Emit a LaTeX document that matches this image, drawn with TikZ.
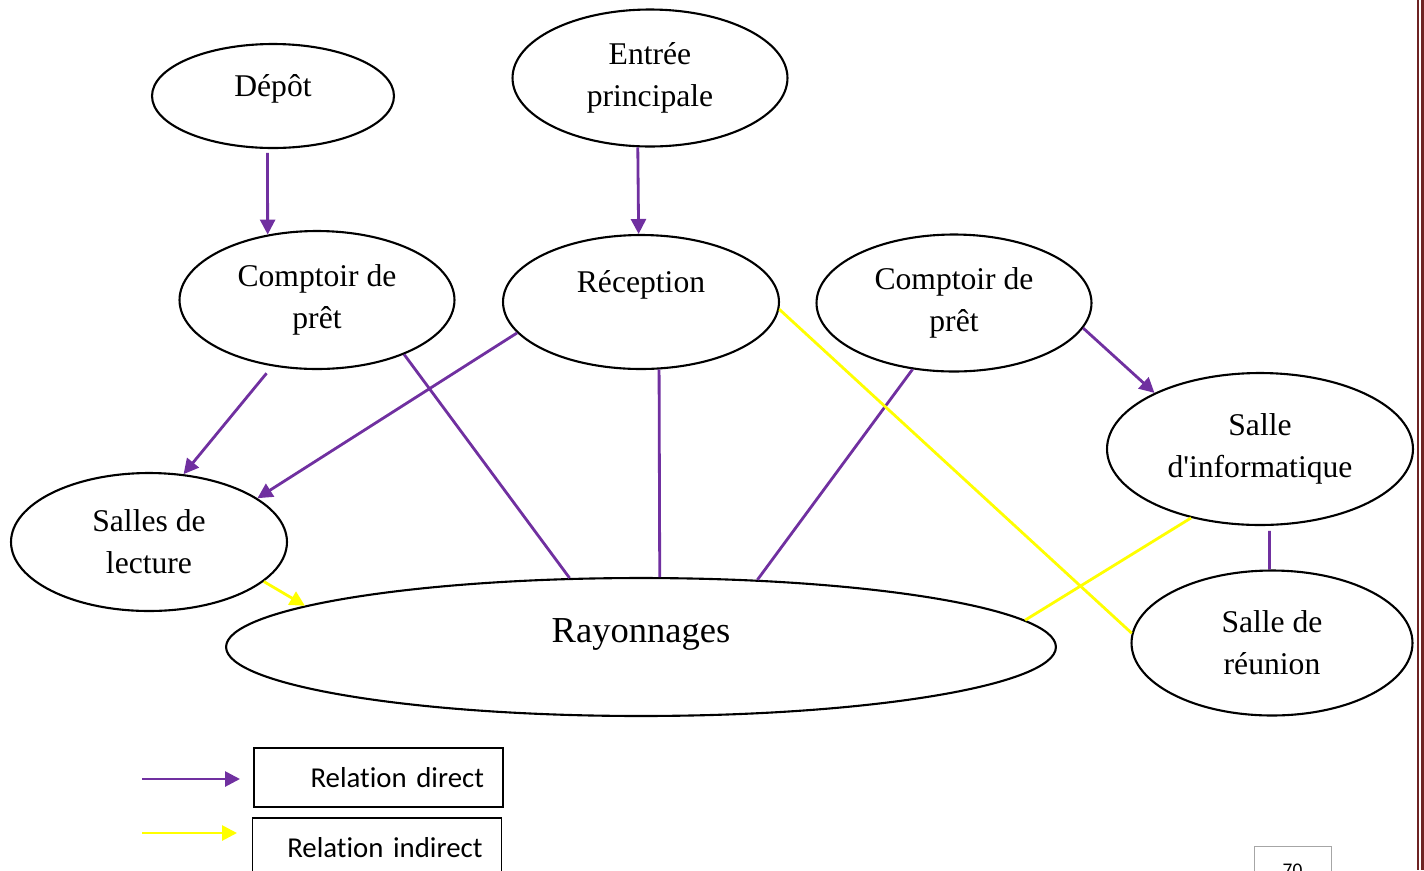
\documentclass[tikz,border=0pt]{standalone}
\usepackage{fontspec}
\setmainfont{Liberation Serif}
\newfontfamily\legfont[Ligatures=NoCommon]{Carlito}
\usetikzlibrary{shapes.geometric,arrows.meta}
\definecolor{relpurple}{RGB}{112,48,160}
\definecolor{relyellow}{RGB}{255,255,0}
\definecolor{pageframe}{RGB}{110,35,35}

\begin{document}
\begin{tikzpicture}[x=0.02cm, y=-0.02cm,
    zone/.style={draw, ellipse, line width=1.2pt, inner sep=0pt, align=center,
      font=\fontsize{18}{24}\selectfont},
    direct/.style={draw=relpurple, line width=1.6pt},
    indirect/.style={draw=relyellow, line width=1.6pt},
    arrowed/.style={-{Triangle[length=0.3cm,width=0.3cm]}},
    legbox/.style={draw, line width=0.8pt, inner xsep=0.38cm, text width=4.22cm,
      align=right, minimum height=1.18cm, font=\legfont\fontsize{16.4}{20}\selectfont}]
  \useasboundingbox (0,0) rectangle (1424,870);
  \clip (0,0) rectangle (1424,870);

  % zones
  \node[zone, minimum width=4.84cm, minimum height=2.08cm] (depot) at (273,96)
    {\raisebox{0pt}[0pt][0pt]{Dépôt}};
  \node[zone, minimum width=5.5cm, minimum height=2.74cm] (entree) at (650,78)
    {Entrée\\principale};
  \node[zone, minimum width=5.5cm, minimum height=2.76cm] (comptA) at (317,300)
    {Comptoir de\\prêt};
  \node[zone, minimum width=5.52cm, minimum height=2.68cm] (reception) at (641,302)
    {\raisebox{0.2cm}[0pt][0pt]{Réception}};
  \node[zone, minimum width=5.5cm, minimum height=2.74cm] (comptB) at (954,303)
    {Comptoir de\\prêt};
  \node[zone, minimum width=6.12cm, minimum height=3.04cm] (info) at (1260,449)
    {Salle\\d\textquotesingle informatique};
  \node[zone, minimum width=5.52cm, minimum height=2.76cm] (lecture) at (149,542)
    {Salles de\\lecture};
  \node[zone, minimum width=16.6cm, minimum height=2.76cm,
    font=\fontsize{20.8}{26}\selectfont] (rayon) at (641,647)
    {\raisebox{0.1cm}[0pt][0pt]{Rayonnages}};
  \node[zone, minimum width=5.62cm, minimum height=2.9cm] (reunion) at (1272,643)
    {Salle de\\réunion};

  % relations
  \draw[direct,arrowed,shorten <=0.08cm] (depot.264) -- (comptA.127);
  \draw[direct,arrowed] (entree.260) -- (reception.92);
  \draw[direct,arrowed,shorten <=0.18cm] (comptA.236) -- (lecture.63);
  \draw[direct,arrowed] (reception.194) -- (lecture.22);
  \draw[direct] (comptA.328) -- (rayon.136);
  \draw[direct] (reception.285) -- (rayon.75);
  \draw[direct] (comptB.238) -- (rayon.30);
  \draw[direct,arrowed] (comptB.349) -- (info.152);
  \draw[direct,shorten <=0.1cm] (info.277) -- (reunion.92);
  \draw[indirect] (reception.357) -- (reunion.176);
  \draw[indirect] (info.225) -- (rayon.4);
  \draw[indirect,arrowed] (lecture.341) -- (rayon.173);

  % legend
  \coordinate (dirA) at (142,779);
  \coordinate (dirB) at (240,779);
  \draw[direct,arrowed] (dirA) -- (dirB);
  \coordinate (indA) at (142,833);
  \coordinate (indB) at (237,833);
  \draw[indirect,arrowed] (indA) -- (indB);
  \node[legbox] (legdir) at (378.5,777.5) {Relation direct};
  \node[legbox] (legind) at (377,847.5) {Relation indirect};

  % page frame and number
  \node[draw=gray!70, line width=0.5pt, minimum width=1.54cm, minimum height=0.96cm,
    font=\legfont\fontsize{11}{13}\selectfont] (pagenum) at (1292.5,870) {70};
  \draw[pageframe, line width=0.05cm] (1418,0) -- (1418,870);
  \draw[pageframe, line width=0.06cm] (1422.5,0) -- (1422.5,870);
\end{tikzpicture}
\end{document}
